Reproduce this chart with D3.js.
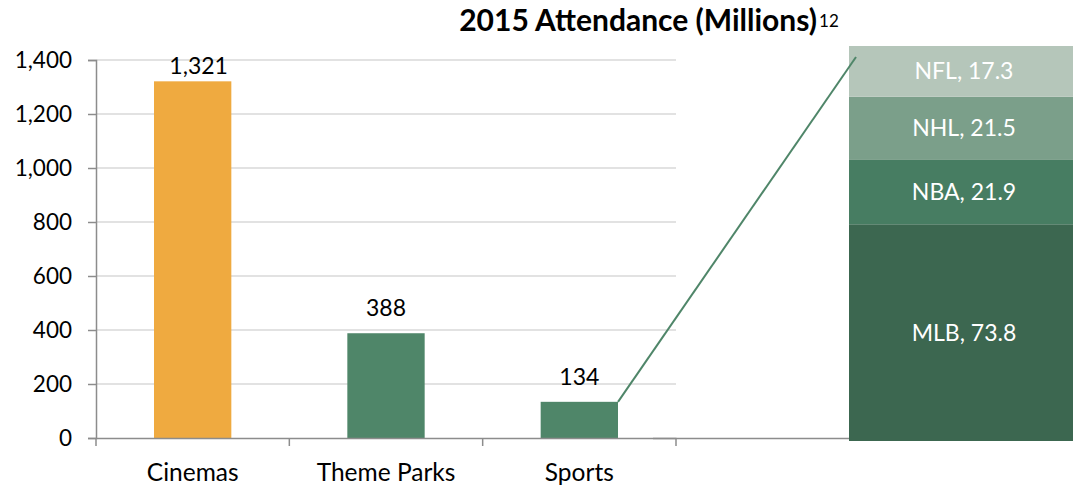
<!DOCTYPE html>
<html>
<head>
<meta charset="utf-8">
<script src="https://cdn.jsdelivr.net/npm/d3@7"></script>
<style>
  body { margin: 0; background: #fff; }
  text { font-family: Lato, "Open Sans", sans-serif; }
</style>
</head>
<body>
<div id="chart"></div>
<script>
var categories = ["Cinemas", "Theme Parks", "Sports"];
var attendance = [1321, 388, 134];
var yTicks = [0, 200, 400, 600, 800, 1000, 1200, 1400];
var leagues = ["MLB", "NBA", "NHL", "NFL"];
var leagueValues = [73.8, 21.9, 21.5, 17.3];
var leagueColors = ["#3c6750", "#477d62", "#7b9f8a", "#b5c6ba"];
var barColors = ["#efaa40", "#4f8669", "#4f8669"];

var outterWidth = 1073;
var outterHeight = 487;
var plot = {left: 96, right: 676, top: 60, bottom: 438};

var svg = d3.select("#chart").append("svg")
  .attr("width", outterWidth)
  .attr("height", outterHeight);

var x = d3.scaleBand().domain(categories).range([plot.left, plot.right]);
var y = d3.scaleLinear().domain([0, 1400]).range([plot.bottom, plot.top]);

// gridlines
svg.append("g").selectAll("line")
  .data(yTicks.slice(1))
  .enter().append("line")
  .attr("x1", plot.left).attr("x2", plot.right)
  .attr("y1", function(d) { return y(d); })
  .attr("y2", function(d) { return y(d); })
  .attr("stroke", "#d9d9d9").attr("stroke-width", 1.5);

// y axis
var yAxis = svg.append("g")
  .attr("transform", "translate(" + plot.left + ",0)")
  .call(d3.axisLeft(y).tickValues(yTicks).tickFormat(d3.format(",")).tickSize(8).tickPadding(16));
yAxis.select(".domain").attr("stroke", "#8c8c8c").attr("stroke-width", 1.5);
yAxis.selectAll(".tick line").attr("stroke", "#8c8c8c").attr("stroke-width", 1.5);
yAxis.selectAll("text").attr("font-size", "22.5px").attr("fill", "#000")
  .style("font-family", "Lato, sans-serif");

// bars
var bw = x.bandwidth() * 0.4;
svg.append("g").selectAll("rect")
  .data(attendance)
  .enter().append("rect")
  .attr("x", function(d, i) { return x(categories[i]) + (x.bandwidth() - bw) / 2; })
  .attr("y", function(d) { return y(d); })
  .attr("width", bw)
  .attr("height", function(d) { return y(0) - y(d); })
  .attr("fill", function(d, i) { return barColors[i]; });

// value labels
svg.append("g").selectAll("text")
  .data(attendance)
  .enter().append("text")
  .attr("x", function(d, i) { return x(categories[i]) + x.bandwidth() / 2 + (i === 0 ? 6 : 0); })
  .attr("y", function(d) { return Math.max(y(d) - 17, 74); })
  .attr("text-anchor", "middle")
  .attr("font-size", "23px")
  .attr("fill", "#000")
  .text(function(d) { return d3.format(",")(d); });

// secondary axis line under stacked bar
svg.append("line")
  .attr("x1", 653).attr("x2", 904)
  .attr("y1", y(0) + 0.5).attr("y2", y(0) + 0.5)
  .attr("stroke", "#8c8c8c").attr("stroke-width", 1.5);

// x axis
var xAxis = svg.append("g")
  .attr("transform", "translate(0," + plot.bottom + ")")
  .call(d3.axisBottom(x).tickSize(0).tickPadding(26));
xAxis.select(".domain").attr("stroke", "#8c8c8c").attr("stroke-width", 1.5);
xAxis.selectAll("text").attr("font-size", "24.5px").attr("fill", "#000")
  .style("font-family", "Lato, sans-serif");
svg.append("g").selectAll("line")
  .data(categories.map(function(c) { return x(c); }).concat([plot.right]))
  .enter().append("line")
  .attr("x1", function(d) { return d; }).attr("x2", function(d) { return d; })
  .attr("y1", plot.bottom).attr("y2", plot.bottom + 8)
  .attr("stroke", "#8c8c8c").attr("stroke-width", 1.5);

// stacked sports breakdown
var total = d3.sum(leagueValues);
var sy = d3.scaleLinear().domain([0, total]).range([441, 46]);
var stackLeft = 849;
var stackWidth = 240;
var cum = 0;
var stackData = leagueValues.map(function(v, i) {
  var s = {name: leagues[i], value: v, y0: cum, y1: cum + v, color: leagueColors[i]};
  cum += v;
  return s;
});

svg.append("g").selectAll("rect")
  .data(stackData)
  .enter().append("rect")
  .attr("x", stackLeft)
  .attr("y", function(d) { return sy(d.y1); })
  .attr("width", stackWidth)
  .attr("height", function(d) { return sy(d.y0) - sy(d.y1); })
  .attr("fill", function(d) { return d.color; });

svg.append("g").selectAll("text")
  .data(stackData)
  .enter().append("text")
  .attr("x", stackLeft + 115)
  .attr("y", function(d) { return (sy(d.y0) + sy(d.y1)) / 2; })
  .attr("dy", "0.35em")
  .attr("text-anchor", "middle")
  .attr("font-size", "23px")
  .attr("fill", "#fff")
  .text(function(d) { return d.name + ", " + d.value; });

// connector line from sports bar to stack
var sportsIdx = categories.indexOf("Sports");
svg.append("line")
  .attr("x1", x("Sports") + (x.bandwidth() + bw) / 2)
  .attr("y1", y(attendance[sportsIdx]))
  .attr("x2", stackLeft + 7)
  .attr("y2", sy(total) + 11)
  .attr("stroke", "#4f8669").attr("stroke-width", 2);

// title
var title = svg.append("text")
  .attr("x", 649).attr("y", 31)
  .attr("text-anchor", "middle")
  .attr("font-size", "30px")
  .attr("font-weight", "bold")
  .attr("fill", "#000");
title.append("tspan").text("2015 Attendance (Millions)");
title.append("tspan").attr("font-size", "17px").attr("font-weight", "normal").attr("dy", "-4").attr("dx", "2").text("12");
</script>
</body>
</html>
